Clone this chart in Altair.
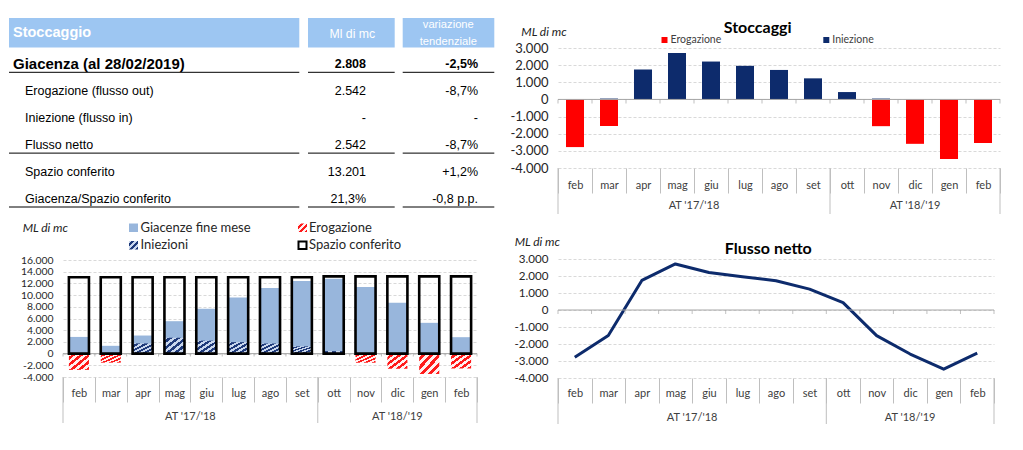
import altair as alt
import pandas as pd

# ---------------- data ----------------
mesi = ["feb", "mar", "apr", "mag", "giu", "lug", "ago", "set", "ott", "nov", "dic", "gen", "feb"]
gruppi = ["AT '17/'18", "AT '18/'19"]
gruppo_inizio = [0, 8]
gruppo_fine = [7, 12]

erogazione = [2780, 1550, 0, 0, 0, 0, 0, 0, 0, 1560, 2590, 3480, 2542]
iniezione = [0, 50, 1740, 2710, 2210, 1960, 1720, 1230, 430, 50, 0, 0, 0]
flusso_netto = [-2780, -1500, 1740, 2710, 2210, 1960, 1720, 1230, 430, -1510, -2590, -3480, -2542]
giacenze = [2850, 1330, 3090, 5540, 7660, 9600, 11200, 12400, 12800, 11370, 8690, 5260, 2808]
spazio_conferito = [13045, 13045, 13045, 13045, 13045, 13045, 13045, 13045,
                    13201, 13201, 13201, 13201, 13201]

serie_flussi = ["Erogazione", "Iniezione"]
serie_stock = ["Giacenze fine mese", "Iniezioni", "Erogazione", "Spazio conferito"]
titoli = ["Stoccaggi", "Flusso netto"]
unita = "ML di mc"

tick_stock = [-4000, -2000, 0, 2000, 4000, 6000, 8000, 10000, 12000, 14000, 16000]
tick_flussi = [-4000, -3000, -2000, -1000, 0, 1000, 2000, 3000]

tab_intestazioni = ["Stoccaggio", "Ml di mc", "variazione tendenziale"]
tab_voci = ["Giacenza (al 28/02/2019)", "Erogazione (flusso out)", "Iniezione (flusso in)",
            "Flusso netto", "Spazio conferito", "Giacenza/Spazio conferito"]
tab_valori = ["2.808", "2.542", "-", "2.542", "13.201", "21,3%"]
tab_variazioni = ["-2,5%", "-8,7%", "-", "-8,7%", "+1,2%", "-0,8 p.p."]

# ---------------- style ----------------
FONT = "Lato"
TFONT = "Liberation Sans"
NAVY = "#0D2B6C"
ROSSO = "#FF0000"
BLU_CHIARO = "#98B6DC"
HEAD = "#9DC6F2"
GR_ASSE = "#BFBFBF"
GR_GRID = "#D9D9D9"
LAB = "#404040"

df = pd.DataFrame({
    "i": list(range(len(mesi))), "mese": mesi, "erogazione": erogazione,
    "iniezione": iniezione, "netto": flusso_netto, "giacenze": giacenze,
    "spazio": spazio_conferito,
})

MESI_EXPR = "[" + ",".join("'%s'" % m for m in mesi) + "][datum.value]"
XSCALE = alt.Scale(type="band", paddingInner=0, paddingOuter=0)


def tratteggio(fg, bg, n):
    stops = []
    for k in range(n):
        a, m, b = k / n, (k + 0.5) / n, (k + 1) / n
        stops += [alt.GradientStop(color=bg, offset=a), alt.GradientStop(color=bg, offset=m),
                  alt.GradientStop(color=fg, offset=m), alt.GradientStop(color=fg, offset=b)]
    return alt.LinearGradient(gradient="linear", stops=stops, x1=0, y1=0, x2=1, y2=1)


HATCH_RED = tratteggio("#FF1A1A", "#FFF0F0", 5)
HATCH_NAVY = tratteggio("#1F3A7A", "#C9D7EE", 5)
HATCH_RED_L = tratteggio("#FF1A1A", "#FFF0F0", 3)
HATCH_NAVY_L = tratteggio("#1F3A7A", "#C9D7EE", 3)


def x_axis(label_pad):
    return alt.Axis(title=None, labelExpr=MESI_EXPR, labelAngle=0, tickBand="extent",
                    tickSize=25, tickColor=GR_ASSE, tickWidth=1, domain=False, grid=False,
                    labelOverlap=False, labelPadding=label_pad, labelFont=FONT,
                    labelFontSize=11, labelColor=LAB)


def y_axis(values, size):
    return alt.Axis(title=None, values=values, format=",.0f", grid=True, gridColor=GR_GRID,
                    gridDash=[3, 2], gridWidth=1, domain=False, ticks=False, labelPadding=10,
                    labelOverlap=False, labelFont=FONT, labelFontSize=size, labelColor="#262626")


class Assi:
    """Same axis definition on every layer of a panel (so the shared axis is kept)."""

    def __init__(self, xa, ya, yscale):
        self.xa, self.ya, self.ys = xa, ya, yscale

    def x(self, band_pos=None):
        kw = {} if band_pos is None else {"bandPosition": band_pos}
        return alt.X("i:O", scale=XSCALE, axis=self.xa, **kw)

    def y(self, field, **kw):
        return alt.Y(field, scale=self.ys, axis=self.ya, **kw)

    def y0(self):
        return alt.Y(datum=0, scale=self.ys, axis=self.ya)


def one(t=""):
    return alt.Chart(pd.DataFrame({"t": [t]}))


def txt(t, x, y, size, color="#000000", align="left", baseline="alphabetic", font=FONT, **extra):
    return one(t).mark_text(align=align, baseline=baseline, font=font, fontSize=size,
                            color=color, **extra).encode(x=alt.value(x), y=alt.value(y), text="t:N")


def box(x1, x2, y1, y2, **mk):
    return one().mark_rect(**mk).encode(x=alt.value(x1), x2=alt.value(x2),
                                        y=alt.value(y1), y2=alt.value(y2))


def zero_layers(A, tick_len):
    lay = [one().mark_rule(color="#A6A6A6", strokeWidth=1).encode(y=A.y0())]
    lay.append(alt.Chart(df).mark_tick(orient="vertical", size=tick_len, thickness=1,
                                       yOffset=tick_len / 2, color="#A6A6A6").encode(
        x=A.x(0), y=A.y0()))
    lay.append(alt.Chart(df.tail(1)).mark_tick(orient="vertical", size=tick_len, thickness=1,
                                               yOffset=tick_len / 2, color="#A6A6A6").encode(
        x=A.x(1), y=A.y0()))
    return lay


def group_layers(A, H, sep_len, label_dy):
    lay = []
    lay.append(alt.Chart(pd.DataFrame({"i": gruppo_inizio})).mark_rule(color=GR_ASSE, strokeWidth=1)
               .encode(x=A.x(0), y=alt.value(H), y2=alt.value(H + sep_len)))
    lay.append(alt.Chart(pd.DataFrame({"i": [gruppo_fine[-1]]})).mark_rule(color=GR_ASSE, strokeWidth=1)
               .encode(x=A.x(1), y=alt.value(H), y2=alt.value(H + sep_len)))
    for g, a, b in zip(gruppi, gruppo_inizio, gruppo_fine):
        s = a + b
        idx = s // 2
        bp = 0.5 if s % 2 == 0 else 1.0
        lay.append(alt.Chart(pd.DataFrame({"i": [idx], "t": [g]}))
                   .mark_text(font=FONT, fontSize=11, color=LAB, baseline="middle")
                   .encode(x=A.x(bp), y=alt.value(H + label_dy), text="t:N"))
    return lay


# ---------------- table (origin aligned with the bar chart's plot top) ----------------
T0 = -30
tab_df = pd.DataFrame({"r": list(range(len(tab_voci))), "voce": tab_voci,
                       "valore": tab_valori, "var": tab_variazioni})
ROW = alt.Y("r:O", scale=alt.Scale(type="point", range=[T0 + 46, T0 + 180.7], padding=0), axis=None)
tb = alt.Chart(tab_df)
col_x = [(-54, 236.3), (245, 331.7), (339.7, 431.3)]
tab_layers = []
for x1, x2 in col_x:
    tab_layers.append(box(x1, x2, T0, T0 + 29.5, color=HEAD))
tab_layers.append(txt(tab_intestazioni[0], -50, T0 + 15, 14.5, "#FFFFFF", baseline="middle",
                      font=TFONT, fontWeight="bold"))
tab_layers.append(txt(tab_intestazioni[1], 289.3, T0 + 15.5, 12.3, "#FFFFFF", align="center",
                      baseline="middle", font=TFONT))
for k, parola in enumerate(tab_intestazioni[2].split(" ")):
    tab_layers.append(txt(parola, 385.3, T0 + 7 + 17 * k, 11.2, "#FFFFFF", align="center",
                          baseline="middle", font=TFONT))
tab_layers.append(tb.transform_filter("datum.r == 0").mark_text(
    align="left", baseline="middle", font=TFONT, fontSize=15, fontWeight="bold", color="#000")
    .encode(x=alt.value(-50), y=ROW, text="voce:N"))
tab_layers.append(tb.transform_filter("datum.r > 0").mark_text(
    align="left", baseline="middle", font=TFONT, fontSize=12.5, color="#000")
    .encode(x=alt.value(-38), y=ROW, text="voce:N"))
for cond, wt in (("datum.r == 0", "bold"), ("datum.r > 0", "normal")):
    tab_layers.append(tb.transform_filter(cond).mark_text(
        align="right", baseline="middle", font=TFONT, fontSize=12.5, fontWeight=wt, color="#000")
        .encode(x=alt.value(303), y=ROW, text="valore:N"))
    tab_layers.append(tb.transform_filter(cond).mark_text(
        align="right", baseline="middle", font=TFONT, fontSize=12.5, fontWeight=wt, color="#000")
        .encode(x=alt.value(415), y=ROW, text="var:N"))
for x1, x2 in col_x:
    tab_layers.append(tb.transform_filter("datum.r == 0 || datum.r == 3 || datum.r == 5")
                      .mark_rule(color="#000", strokeWidth=1, yOffset=8.3)
                      .encode(x=alt.value(x1), x2=alt.value(x2), y=ROW))
table = alt.layer(*tab_layers).properties(width=431, height=150)

base = alt.Chart(df)

# ---------------- stock chart (bottom-left) ----------------
W_S, H_S = 414, 117
AS = Assi(x_axis(-15), y_axis(tick_stock, 10.4),
          alt.Scale(domain=[-4000, 16000], nice=False, zero=False))
BW_S = alt.RelativeBandSize(0.63)
st_layers = [
    base.mark_bar(color=BLU_CHIARO, width=BW_S).encode(x=AS.x(), y=AS.y("giacenze:Q")),
    base.mark_bar(fill=HATCH_NAVY, width=BW_S).encode(x=AS.x(), y=AS.y("iniezione:Q")),
    base.transform_calculate(ero="-datum.erogazione").mark_bar(fill=HATCH_RED, width=BW_S)
    .encode(x=AS.x(), y=AS.y("ero:Q")),
]
st_layers += zero_layers(AS, 3)
st_layers.append(base.mark_bar(fillOpacity=0, stroke="#000000", strokeWidth=2.6, width=BW_S)
                 .encode(x=AS.x(), y=AS.y("spazio:Q")))
st_layers += group_layers(AS, H_S, 46, 40)
st_layers += [
    txt(unita, -40.3, -27.7, 12, "#222222", fontStyle="italic"),
    box(66, 75, -36.5, -28, color=BLU_CHIARO),
    txt(serie_stock[0], 77.5, -28.5, 13, "#262626"),
    box(66, 75, -19, -10.5, fill=HATCH_NAVY_L),
    txt(serie_stock[1], 77.5, -11, 13, "#262626"),
    box(235, 244, -36.5, -28, fill=HATCH_RED_L),
    txt(serie_stock[2], 246, -28.5, 13, "#262626"),
    box(235.5, 243.5, -18.5, -11, fill="#FFFFFF", stroke="#000000", strokeWidth=2),
    txt(serie_stock[3], 246, -11, 13, "#262626"),
]
stock = alt.layer(*st_layers).properties(width=W_S, height=H_S)

# ---------------- stoccaggi bar chart (top-right) ----------------
W_B, H_B = 442, 120
AB = Assi(x_axis(-14), y_axis(tick_flussi, 13),
          alt.Scale(domain=[-4000, 3000], nice=False, zero=False))
bar_layers = [
    base.transform_calculate(Erogazione="-datum.erogazione", Iniezione="datum.iniezione")
    .transform_fold(serie_flussi, as_=["serie", "valore"])
    .mark_bar(width=alt.RelativeBandSize(0.53))
    .encode(x=AB.x(), y=AB.y("valore:Q", stack=None),
            color=alt.Color("serie:N", scale=alt.Scale(domain=serie_flussi, range=[ROSSO, NAVY]),
                            legend=None)),
]
bar_layers += zero_layers(AB, 4)
bar_layers += group_layers(AB, H_B, 46, 38)
bar_layers += [
    txt(titoli[0], 199.7, -15, 16, "#000000", align="center", fontWeight="bold"),
    txt(unita, -36.7, -12.5, 12, "#222222", fontStyle="italic"),
    box(103.5, 109.5, -11, -5, color=ROSSO),
    txt(serie_flussi[0], 112.5, -8, 10.5, LAB, baseline="middle"),
    box(265.3, 271.3, -11, -5, color=NAVY),
    txt(serie_flussi[1], 274.3, -8, 10.5, LAB, baseline="middle"),
]
bars = alt.layer(*bar_layers).properties(width=W_B, height=H_B)

# ---------------- flusso netto line chart (bottom-right) ----------------
W_L, H_L = 436, 119
AL = Assi(x_axis(-16), y_axis(tick_flussi, 11.6),
          alt.Scale(domain=[-4000, 3000], nice=False, zero=False))
line_layers = [
    base.mark_line(color=NAVY, strokeWidth=3, strokeJoin="round")
    .encode(x=AL.x(0.5), y=AL.y("netto:Q")),
]
line_layers += zero_layers(AL, 4)
line_layers += group_layers(AL, H_L, 46, 40)
line_layers += [
    txt(titoli[1], 210.3, -5, 16, "#000000", align="center", fontWeight="bold"),
    txt(unita, -43.3, -12.6, 12, "#222222", fontStyle="italic"),
]
line = alt.layer(*line_layers).properties(width=W_L, height=H_L)

left = alt.vconcat(table, stock, spacing=13)
right = alt.vconcat(bars, line, spacing=21)
chart = (
    alt.hconcat(left, right, spacing=14)
    .properties(padding={"left": 0, "top": 10, "right": 0, "bottom": 0}, background="#FFFFFF")
    .configure(locale={"number": {"decimal": ",", "thousands": ".", "grouping": [3],
                                  "currency": ["", " €"], "minus": "-"}})
    .configure_view(strokeWidth=0)
)
chart.save("out.html", embed_options={"renderer": "svg", "actions": False})
